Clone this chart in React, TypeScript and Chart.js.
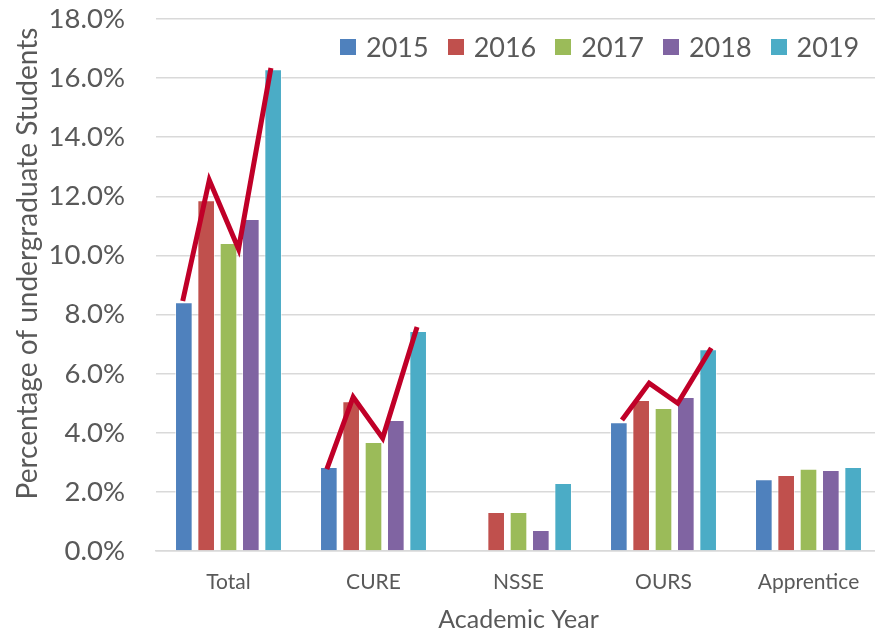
import React, { useEffect, useRef } from "react";
import { Chart, registerables } from "chart.js";

Chart.register(...registerables);

const categories = ["Total", "CURE", "NSSE", "OURS", "Apprentice"];
const years = ["2015", "2016", "2017", "2018", "2019"];
const values2015 = [8.42, 2.84, null, 4.36, 2.43];
const values2016 = [11.87, 5.07, 1.32, 5.11, 2.57];
const values2017 = [10.42, 3.69, 1.32, 4.84, 2.78];
const values2018 = [11.23, 4.43, 0.71, 5.21, 2.74];
const values2019 = [16.3, 7.44, 2.3, 6.83, 2.84];
const barColors = ["#4F81BD", "#C0504D", "#9BBB59", "#8064A2", "#4BACC6"];

// red trend strokes: group index, bar-slot offsets within group, values
const trendGroups = [0, 1, 3];
const trendSlots = [
  [-2.05, -0.86, 0.45, 1.9],
  [-2.09, -0.91, 0.41, 1.95],
  [-1.86, -0.64, 0.64, 2.14],
];
const trendValues = [
  [8.46, 12.55, 10.22, 16.34],
  [2.77, 5.21, 3.82, 7.58],
  [4.43, 5.68, 5.0, 6.87],
];

const yTicks = [0, 2, 4, 6, 8, 10, 12, 14, 16, 18];

const GROUP_PCT = 0.77; // share of a category taken by the 5 bar slots
const BAR_PCT = 0.79; // share of a slot taken by a bar
const FONT = "Lato, 'Open Sans', sans-serif";
const TEXT = "#595959";
const GRID = "#D9D9D9";

export default function App() {
  const ref = useRef<HTMLCanvasElement | null>(null);

  useEffect(() => {
    document.body.style.margin = "0";
    const canvas = ref.current;
    if (!canvas) return;
    const allValues = [values2015, values2016, values2017, values2018, values2019];
    const slot = GROUP_PCT / years.length;
    const mid = (years.length - 1) / 2;

    const barSets = years.map((y, i) => ({
      type: "bar" as const,
      label: y,
      data: allValues[i].map((v, g) => ({ x: g + (i - mid) * slot, y: v })),
      backgroundColor: barColors[i],
      borderColor: "rgba(255,255,255,0.55)",
      borderWidth: 1,
      grouped: false,
      categoryPercentage: 1,
      barPercentage: BAR_PCT,
      order: 2,
    }));

    const lineSets = trendGroups.map((g, k) => ({
      type: "line" as const,
      label: "trend" + k,
      data: trendSlots[k].map((s, j) => ({ x: g + s * slot, y: trendValues[k][j] })),
      borderColor: "#C00028",
      borderWidth: 5,
      pointRadius: 0,
      fill: false,
      tension: 0,
      order: 1,
      borderCapStyle: "butt" as const,
      borderJoinStyle: "miter" as const,
    }));

    const chart = new Chart(canvas, {
      type: "bar",
      data: { datasets: [...barSets, ...lineSets] as any },
      options: {
        animation: false,
        responsive: false,
        maintainAspectRatio: false,
        layout: { padding: { top: 19, right: 1, left: 0, bottom: 0 } },
        plugins: {
          legend: { display: false },
          tooltip: { enabled: false },
        },
        scales: {
          x: {
            type: "linear",
            offset: false,
            min: -0.5,
            max: categories.length - 0.5,
            afterBuildTicks: (s: any) => {
              s.ticks = categories.map((_, i) => ({ value: i }));
            },
            grid: { display: false, drawTicks: false },
            border: { display: true, color: GRID, width: 1.5 },
            ticks: {
              autoSkip: false,
              maxRotation: 0,
              color: TEXT,
              font: { family: FONT, size: 21 },
              padding: 19,
              callback: (v: any) => categories[Math.round(Number(v))] ?? "",
            },
            title: {
              display: true,
              text: "Academic Year",
              color: TEXT,
              font: { family: FONT, size: 25 },
              padding: { top: 0, bottom: -2 },
            },
            afterFit: (s: any) => {
              s.height = 82;
            },
          },
          y: {
            min: 0,
            max: 18,
            afterBuildTicks: (s: any) => {
              s.ticks = yTicks.map((v) => ({ value: v }));
            },
            grid: { color: GRID, lineWidth: 1.5, drawTicks: false },
            border: { display: false },
            ticks: {
              color: TEXT,
              font: { family: FONT, size: 27.5 },
              padding: 31,
              callback: (v: any) => Number(v).toFixed(1) + "%",
            },
            title: {
              display: true,
              text: "      Percentage of undergraduate Students",
              color: TEXT,
              font: { family: FONT, size: 28 },
              padding: { top: 11, bottom: 0 },
            },
            afterFit: (s: any) => {
              s.width = 156;
              s.paddingTop = 0;
              s.paddingBottom = 0;
            },
          },
        },
      },
    });
    return () => chart.destroy();
  }, []);

  return (
    <div style={{ width: 875, height: 633, overflow: "hidden", position: "relative", background: "#fff" }}>
      <canvas ref={ref} width={882} height={633} style={{ display: "block", width: 882, height: 633 }} />
      <div
        style={{
          position: "absolute",
          left: 340,
          top: 31,
          height: 32,
          display: "flex",
          alignItems: "center",
          fontFamily: FONT,
          fontSize: 27,
          color: TEXT,
          lineHeight: "32px",
          whiteSpace: "nowrap",
        }}
      >
        {years.map((y, i) => (
          <div key={y} style={{ display: "flex", alignItems: "center", marginRight: i < years.length - 1 ? 19 : 0 }}>
            <span style={{ display: "inline-block", width: 16, height: 16, background: barColors[i], marginRight: 10 }} />
            <span>{y}</span>
          </div>
        ))}
      </div>
    </div>
  );
}
